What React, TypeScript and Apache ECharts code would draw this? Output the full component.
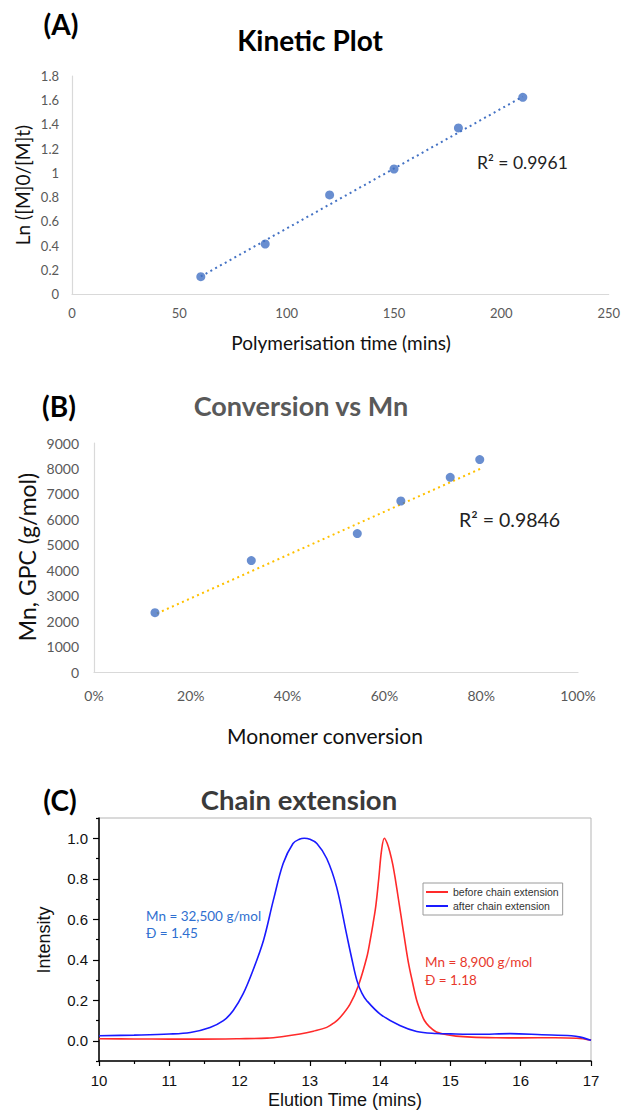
import React, { useEffect, useRef } from "react";
import * as echarts from "echarts";

// (A) Kinetic plot
const kineticTime = [60, 90, 120, 150, 180, 210];
const kineticLn = [0.143, 0.413, 0.818, 1.032, 1.371, 1.624];
const kineticTrendX = [60, 210];
const kineticTrendY = [0.145, 1.63];
const kineticXTicks = [0, 250, 50];
const kineticYTicks = [0, 1.8, 0.2];

// (B) Conversion vs Mn
const conversion = [0.126, 0.325, 0.544, 0.634, 0.736, 0.797];
const mnGpc = [2330, 4380, 5440, 6720, 7650, 8350];
const convTrendX = [0.13, 0.8];
const convTrendY = [2300, 8000];

// (C) Chain extension (GPC traces)
const beforeTime = [10, 10.5, 11, 11.44, 12, 12.39, 12.6, 12.86, 13.05, 13.24, 13.35, 13.43, 13.57, 13.69, 13.81, 13.86, 13.9, 13.94, 13.98, 14.02, 14.06, 14.1, 14.14, 14.18, 14.22, 14.26, 14.3, 14.34, 14.4, 14.46, 14.52, 14.58, 14.63, 14.7, 14.8, 14.95, 15.08, 15.3, 15.65, 16.0, 16.49, 16.8, 17];
const beforeInt = [0.01, 0.009, 0.008, 0.008, 0.01, 0.013, 0.02, 0.033, 0.047, 0.066, 0.09, 0.115, 0.18, 0.272, 0.412, 0.5, 0.58, 0.67, 0.8, 0.94, 1.0, 0.975, 0.93, 0.87, 0.79, 0.7, 0.61, 0.52, 0.39, 0.29, 0.2, 0.14, 0.1, 0.07, 0.043, 0.03, 0.023, 0.018, 0.015, 0.014, 0.015, 0.012, 0.003];
const afterTime = [10, 10.5, 11, 11.3, 11.58, 11.77, 11.91, 12.05, 12.19, 12.34, 12.48, 12.62, 12.76, 12.85, 12.92, 13.0, 13.1, 13.24, 13.38, 13.52, 13.6, 13.67, 13.74, 13.81, 14.0, 14.28, 14.52, 14.8, 15.0, 15.4, 15.85, 16.3, 16.72, 16.85, 17];
const afterInt = [0.025, 0.028, 0.033, 0.041, 0.066, 0.099, 0.149, 0.231, 0.347, 0.495, 0.693, 0.875, 0.974, 0.995, 1.0, 0.995, 0.974, 0.9, 0.76, 0.53, 0.4, 0.297, 0.235, 0.198, 0.132, 0.075, 0.046, 0.036, 0.034, 0.032, 0.035, 0.03, 0.025, 0.018, 0.002];
const seriesNames = ["before chain extension", "after chain extension"];
const majorYC = [0, 0.2, 0.4, 0.6, 0.8, 1.0];

const zip = (a: number[], b: number[]) => a.map((v, i) => [v, b[i]]);

const CAL = "Lato, 'Open Sans', sans-serif";
const ARIAL = "'Liberation Sans', Arial, sans-serif";

export default function App() {
  const ref = useRef<HTMLDivElement>(null);
  useEffect(() => {
    if (!ref.current) return;
    const chart = echarts.init(ref.current, undefined, { renderer: "svg" });
    const excelLabel = (size: number, margin: number) => ({
      color: "#595959",
      fontSize: size,
      fontFamily: CAL,
      margin,
    });
    const text = (x: number, y: number, t: string, font: string, fill: string, align = "center", rotation = 0) => ({
      type: "text",
      x,
      y,
      rotation,
      style: { text: t, font, fill, align, verticalAlign: "middle" },
    });
    chart.setOption({
      animation: false,
      grid: [
        { left: 72, top: 76, width: 541, height: 218 },
        { left: 94, top: 443, width: 484, height: 229 },
        { left: 99, top: 818, width: 492, height: 243, show: true, borderColor: "#b5b5b5", borderWidth: 1 },
      ],
      xAxis: [
        {
          type: "value", gridIndex: 0, min: kineticXTicks[0], max: kineticXTicks[1], interval: kineticXTicks[2],
          axisLine: { show: true, lineStyle: { color: "#d9d9d9", width: 1.2 } },
          axisTick: { show: false }, splitLine: { show: false },
          axisLabel: excelLabel(13, 12),
        },
        {
          type: "value", gridIndex: 1, min: 0, max: 1, interval: 0.2,
          axisLine: { show: true, lineStyle: { color: "#d9d9d9", width: 1.2 } },
          axisTick: { show: false }, splitLine: { show: false },
          axisLabel: { ...excelLabel(14, 16), formatter: (v: number) => Math.round(v * 100) + "%" },
        },
        {
          type: "value", gridIndex: 2, min: 10, max: 17, interval: 1,
          axisLine: { show: true, onZero: false, lineStyle: { color: "#000", width: 1.5 } },
          axisTick: { show: true, length: 5, lineStyle: { color: "#000", width: 1.2 } },
          minorTick: { show: true, splitNumber: 2, length: 3, lineStyle: { color: "#000", width: 1.2 } },
          splitLine: { show: false },
          axisLabel: { color: "#111", fontSize: 15, fontFamily: ARIAL, margin: 12 },
        },
      ],
      yAxis: [
        {
          type: "value", gridIndex: 0, min: kineticYTicks[0], max: kineticYTicks[1], interval: kineticYTicks[2],
          axisLine: { show: true, lineStyle: { color: "#d9d9d9", width: 1.2 } },
          axisTick: { show: false }, splitLine: { show: false },
          axisLabel: { ...excelLabel(13, 13), formatter: (v: number) => String(+v.toFixed(1)) },
        },
        {
          type: "value", gridIndex: 1, min: 0, max: 9000, interval: 1000,
          axisLine: { show: true, lineStyle: { color: "#d9d9d9", width: 1.2 } },
          axisTick: { show: false }, splitLine: { show: false },
          axisLabel: { ...excelLabel(14, 15), formatter: (v: number) => String(Math.round(v)) },
        },
        {
          type: "value", gridIndex: 2, min: -0.1, max: 1.1,
          axisLine: { show: true, onZero: false, lineStyle: { color: "#000", width: 1.5 } },
          axisTick: { show: true, length: 6, customValues: majorYC, lineStyle: { color: "#000", width: 1.2 } },
          splitLine: { show: false },
          axisLabel: {
            customValues: majorYC,
            formatter: (v: number) => v.toFixed(1),
            color: "#111", fontSize: 15, fontFamily: ARIAL, margin: 11,
          },
        },
        {
          type: "value", gridIndex: 2, min: -0.1, max: 1.1, interval: 0.2, position: "left",
          axisLine: { show: false },
          axisTick: { show: true, length: 3, lineStyle: { color: "#000", width: 1.2 } },
          axisLabel: { show: false }, splitLine: { show: false },
        },
      ],
      legend: {
        left: 423, top: 883, orient: "vertical",
        data: seriesNames, icon: "rect", itemWidth: 22, itemHeight: 2, itemGap: 2, itemTextGap: 5,
        padding: [3, 4, 3, 3],
        borderColor: "#9a9a9a", borderWidth: 1,
        textStyle: { fontSize: 10.5, fontFamily: ARIAL, color: "#333", lineHeight: 12 },
      },
      series: [
        {
          type: "line", xAxisIndex: 0, yAxisIndex: 0, data: zip(kineticTrendX, kineticTrendY),
          showSymbol: false, silent: true,
          lineStyle: { color: "#4472c4", width: 2, type: [2, 3.5] },
        },
        {
          type: "scatter", xAxisIndex: 0, yAxisIndex: 0, data: zip(kineticTime, kineticLn),
          symbolSize: 9, itemStyle: { color: "#4472c4" }, z: 3,
        },
        {
          type: "line", xAxisIndex: 1, yAxisIndex: 1, data: zip(convTrendX, convTrendY),
          showSymbol: false, silent: true,
          lineStyle: { color: "#ffc000", width: 2, type: [2, 3.5] },
        },
        {
          type: "scatter", xAxisIndex: 1, yAxisIndex: 1, data: zip(conversion, mnGpc),
          symbolSize: 9, itemStyle: { color: "#4472c4" }, z: 3,
        },
        {
          name: seriesNames[0], type: "line", xAxisIndex: 2, yAxisIndex: 2, data: zip(beforeTime, beforeInt),
          showSymbol: false, smooth: 0.35,
          lineStyle: { color: "#ff2a2a", width: 1.6 }, itemStyle: { color: "#ff2a2a" },
        },
        {
          name: seriesNames[1], type: "line", xAxisIndex: 2, yAxisIndex: 2, data: zip(afterTime, afterInt),
          showSymbol: false, smooth: 0.35,
          lineStyle: { color: "#1a1aff", width: 1.6 }, itemStyle: { color: "#1a1aff" },
        },
      ],
      graphic: [
        text(61, 24, "(A)", `bold 28px ${CAL}`, "#000"),
        text(310, 40, "Kinetic Plot", `bold 28px ${CAL}`, "#000"),
        text(22, 185, "Ln ([M]0/[M]t)", `19px ${CAL}`, "#111", "center", Math.PI / 2),
        text(341, 342, "Polymerisation time (mins)", `19px ${CAL}`, "#111"),
        text(477, 162, "R² = 0.9961", `17.5px ${CAL}`, "#222", "left"),

        text(59, 406, "(B)", `bold 28px ${CAL}`, "#000"),
        text(301, 405, "Conversion vs Mn", `bold 27px ${CAL}`, "#595959"),
        text(27, 557, "Mn, GPC (g/mol)", `23px ${CAL}`, "#111", "center", Math.PI / 2),
        text(325, 735, "Monomer conversion", `21px ${CAL}`, "#111"),
        text(459, 519, "R² = 0.9846", `19.5px ${CAL}`, "#222", "left"),

        text(60, 800, "(C)", `bold 28px ${CAL}`, "#000"),
        text(299, 799, "Chain extension", `bold 27.5px ${CAL}`, "#3a3a3a"),
        text(44, 940, "Intensity", `18px ${ARIAL}`, "#111", "center", Math.PI / 2),
        text(345, 1100, "Elution Time (mins)", `18px ${ARIAL}`, "#111"),
        text(146, 916, "Mn = 32,500 g/mol", `13.5px ${CAL}`, "#2f6fd0", "left"),
        text(146, 933, "Đ = 1.45", `13.5px ${CAL}`, "#2f6fd0", "left"),
        text(425, 962, "Mn = 8,900 g/mol", `13.5px ${CAL}`, "#e8382c", "left"),
        text(425, 980, "Đ = 1.18", `13.5px ${CAL}`, "#e8382c", "left"),
      ],
    });
    return () => chart.dispose();
  }, []);
  return (
    <div
      ref={ref}
      style={{ position: "absolute", left: 0, top: 0, width: 623, height: 1110, background: "#fff" }}
    />
  );
}
